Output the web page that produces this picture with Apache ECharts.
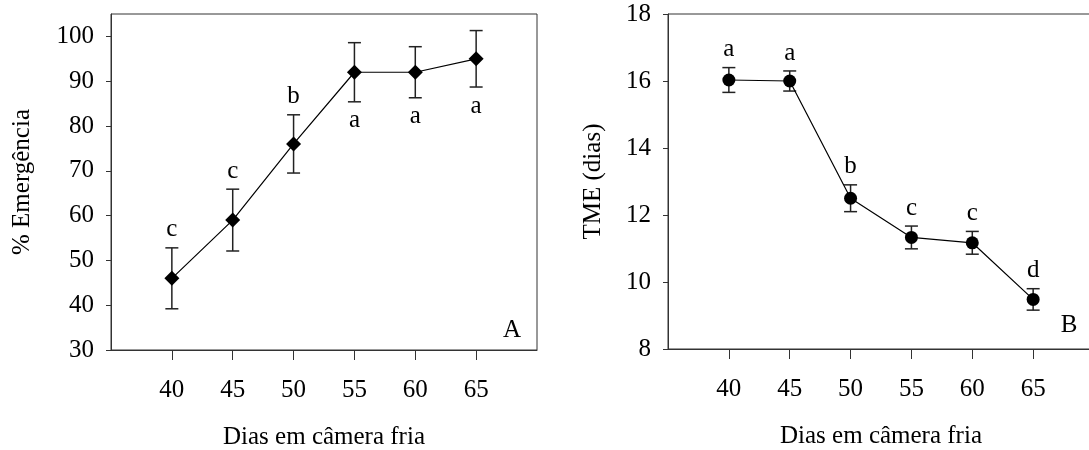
<!DOCTYPE html>
<html>
<head>
<meta charset="utf-8">
<script src="https://cdn.jsdelivr.net/npm/echarts@6/dist/echarts.min.js"></script>
<style>
  html, body { margin: 0; padding: 0; background: #fff; }
  #chart { width: 1089px; height: 450px; }
</style>
</head>
<body>
<div id="chart"></div>
<script>
// ---- data ----
const days = [40, 45, 50, 55, 60, 65];
const xTicks = [40, 45, 50, 55, 60, 65];

const emergence = [46, 59, 76, 92, 92, 95];
const emergenceErr = [6.8, 6.9, 6.5, 6.6, 5.7, 6.3];
const emergenceLetters = ['c', 'c', 'b', 'a', 'a', 'a'];
const emergenceLetterSide = ['above', 'above', 'above', 'below', 'below', 'below'];
const yTicksA = [30, 40, 50, 60, 70, 80, 90, 100];

const tme = [16.03, 16.0, 12.5, 11.33, 11.17, 9.48];
const tmeErr = [0.37, 0.30, 0.40, 0.34, 0.34, 0.32];
const tmeLetters = ['a', 'a', 'b', 'c', 'c', 'd'];
const tmeLetterSide = ['above', 'above', 'above', 'above', 'above', 'above'];
const yTicksB = [8, 10, 12, 14, 16, 18];

// ---- style ----
const FONT = 'Liberation Serif, Times New Roman, serif';
const FS = 25;
const AX = '#333';

function xAxisCfg(gridIndex) {
  return {
    type: 'value', gridIndex, min: 35, max: 70,
    name: 'Dias em câmera fria', nameLocation: 'middle', nameGap: 75,
    nameTextStyle: { fontFamily: FONT, fontSize: FS, color: '#000' },
    axisLine: { show: true, lineStyle: { color: AX, width: 1 } },
    axisTick: { show: true, length: 10, lineStyle: { color: AX, width: 1 }, customValues: xTicks },
    axisLabel: { fontFamily: FONT, fontSize: FS, color: '#000', margin: 28, customValues: xTicks },
    splitLine: { show: false }
  };
}
function yAxisCfg(gridIndex, min, max, ticks, name, gap) {
  return {
    type: 'value', gridIndex, min, max,
    name, nameLocation: 'middle', nameGap: gap, nameRotate: 90,
    nameTextStyle: { fontFamily: FONT, fontSize: FS, color: '#000' },
    axisLine: { show: true, lineStyle: { color: AX, width: 1 } },
    axisTick: { show: true, length: 5, lineStyle: { color: AX, width: 1 }, customValues: ticks },
    axisLabel: { fontFamily: FONT, fontSize: FS, color: '#000', margin: 17, customValues: ticks },
    splitLine: { show: false }
  };
}

function errSeries(idx, vals, errs, letters, sides) {
  return {
    type: 'custom', xAxisIndex: idx, yAxisIndex: idx, z: 1,
    data: days.map((d, i) => [d, vals[i], errs[i]]),
    renderItem(params, api) {
      const x = api.value(0), v = api.value(1), e = api.value(2);
      const top = api.coord([x, v + e]);
      const bot = api.coord([x, v - e]);
      const cw = 6.5;
      const ls = { stroke: '#222', lineWidth: 1.5 };
      const i = params.dataIndex;
      const ty = sides[i] === 'above' ? top[1] - 18 : bot[1] + 19;
      return {
        type: 'group',
        children: [
          { type: 'line', shape: { x1: top[0], y1: top[1], x2: bot[0], y2: bot[1] }, style: ls },
          { type: 'line', shape: { x1: top[0] - cw, y1: top[1], x2: top[0] + cw, y2: top[1] }, style: ls },
          { type: 'line', shape: { x1: bot[0] - cw, y1: bot[1], x2: bot[0] + cw, y2: bot[1] }, style: ls },
          { type: 'text', style: { text: letters[i], x: top[0], y: ty, align: 'center', verticalAlign: 'middle',
              font: FS + 'px ' + FONT, fill: '#000' } }
        ]
      };
    }
  };
}

const chart = echarts.init(document.getElementById('chart'), null, { renderer: 'canvas' });
chart.setOption({
  animation: false,
  backgroundColor: '#fff',
  grid: [
    { left: 111, top: 14, width: 426, height: 336, show: true, borderColor: AX, borderWidth: 1,
      backgroundColor: 'transparent', containLabel: false, outerBoundsMode: 'none' },
    { left: 668, top: 14, width: 426, height: 335, show: true, borderColor: AX, borderWidth: 1,
      backgroundColor: 'transparent', containLabel: false, outerBoundsMode: 'none' }
  ],
  xAxis: [xAxisCfg(0), xAxisCfg(1)],
  yAxis: [
    yAxisCfg(0, 30, 105, yTicksA, '% Emergência', 76),
    yAxisCfg(1, 8, 18, yTicksB, 'TME (dias)', 62)
  ],
  graphic: [
    { type: 'text', x: 512, y: 330, style: { text: 'A', font: FS + 'px ' + FONT, fill: '#000', align: 'center', verticalAlign: 'middle' } },
    { type: 'text', x: 1069, y: 325, style: { text: 'B', font: FS + 'px ' + FONT, fill: '#000', align: 'center', verticalAlign: 'middle' } }
  ],
  series: [
    errSeries(0, emergence, emergenceErr, emergenceLetters, emergenceLetterSide),
    {
      type: 'line', xAxisIndex: 0, yAxisIndex: 0, z: 3,
      data: days.map((d, i) => [d, emergence[i]]),
      symbol: 'diamond', symbolSize: 15,
      lineStyle: { color: '#000', width: 1.2 },
      itemStyle: { color: '#000' }
    },
    errSeries(1, tme, tmeErr, tmeLetters, tmeLetterSide),
    {
      type: 'line', xAxisIndex: 1, yAxisIndex: 1, z: 3,
      data: days.map((d, i) => [d, tme[i]]),
      symbol: 'circle', symbolSize: 13,
      lineStyle: { color: '#000', width: 1.2 },
      itemStyle: { color: '#000' }
    }
  ]
});
</script>
</body>
</html>
